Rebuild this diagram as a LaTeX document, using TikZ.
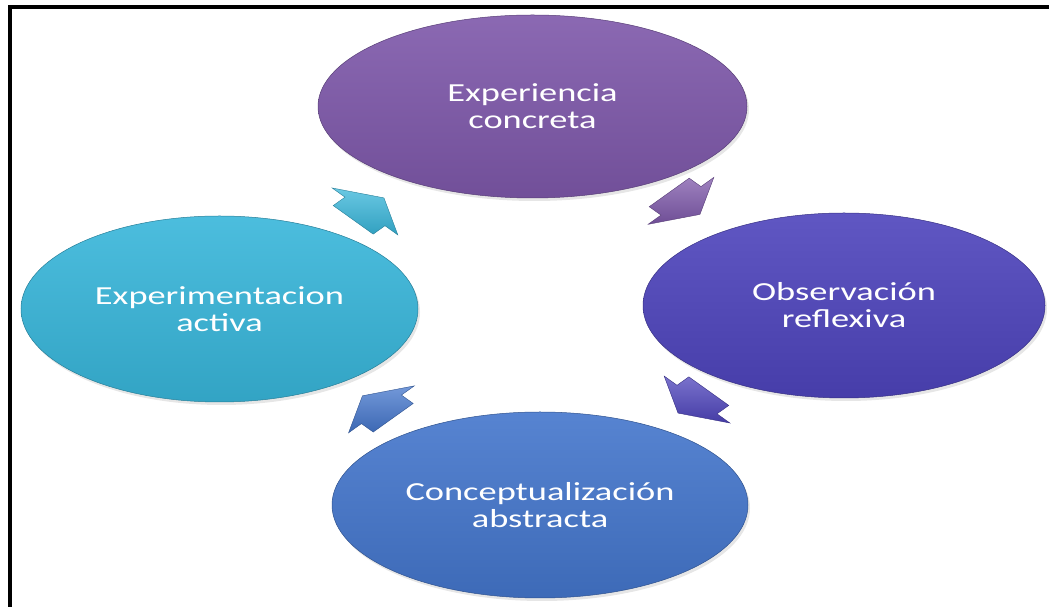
\documentclass[tikz,border=0pt]{standalone}
\usepackage{fontspec}
\newfontfamily\etiqueta[FakeStretch=1.4]{Carlito}
\usepackage{tikz}
\usetikzlibrary{shapes.geometric,shapes.arrows,shadows}

\definecolor{morado}{HTML}{7E58AA}
\definecolor{cian}{HTML}{38B6DA}
\definecolor{violeta}{HTML}{4E44BC}
\definecolor{azul}{HTML}{4476CC}

\tikzset{
  etapa/.style={ellipse, inner sep=0pt, align=center, text=white,
    font=\etiqueta\fontsize{26}{27}\selectfont,
    top color=#1!90!white, bottom color=#1!90!black, draw=#1!70!black, line width=0.5pt,
    drop shadow={opacity=0.2, shadow xshift=2pt, shadow yshift=-3pt}},
  flecha/.style={single arrow, anchor=tail, text width=19pt, inner xsep=0pt, inner ysep=20pt,
    minimum width=0pt, minimum height=0pt,
    single arrow head extend=13pt, single arrow tip angle=120,
    top color=#1!75!white, bottom color=#1!88!black, draw=#1!70!black, line width=0.4pt}
}

\begin{document}
\begin{tikzpicture}[x=1pt,y=1pt]
\useasboundingbox (0,0) rectangle (1049,607);

 \node[etapa=morado, minimum width=429pt, minimum height=183pt] (e1) at (532.5,500.5) {Experiencia\\concreta};
  \node[etapa=violeta, minimum width=402pt, minimum height=185pt] (e2) at (844,301.5) {Observación\\reflexiva};
   \node[etapa=azul, minimum width=416pt, minimum height=186pt] (e3) at (540,102) {Conceptualización\\abstracta};
    \node[etapa=cian, minimum width=397pt, minimum height=186pt] (e4) at (219.5,298) {Experimentacion\\activa};

 % flechas del ciclo (la figura esta estirada en x)
 \node[flecha=cian, xscale=1.4, rotate=45] (f1) at (353,387) {};
 \node[flecha=morado, xscale=1.4, rotate=-45] (f2) at (669,414.7) {};
 \node[flecha=violeta, xscale=1.4, rotate=225] (f3) at (709,216) {};
 \node[flecha=azul, xscale=1.4, rotate=135] (f4) at (393.4,189.1) {};

\draw[line width=4pt] (1049,600) -- (10,600) -- (10,0);

\end{tikzpicture}
\end{document}
